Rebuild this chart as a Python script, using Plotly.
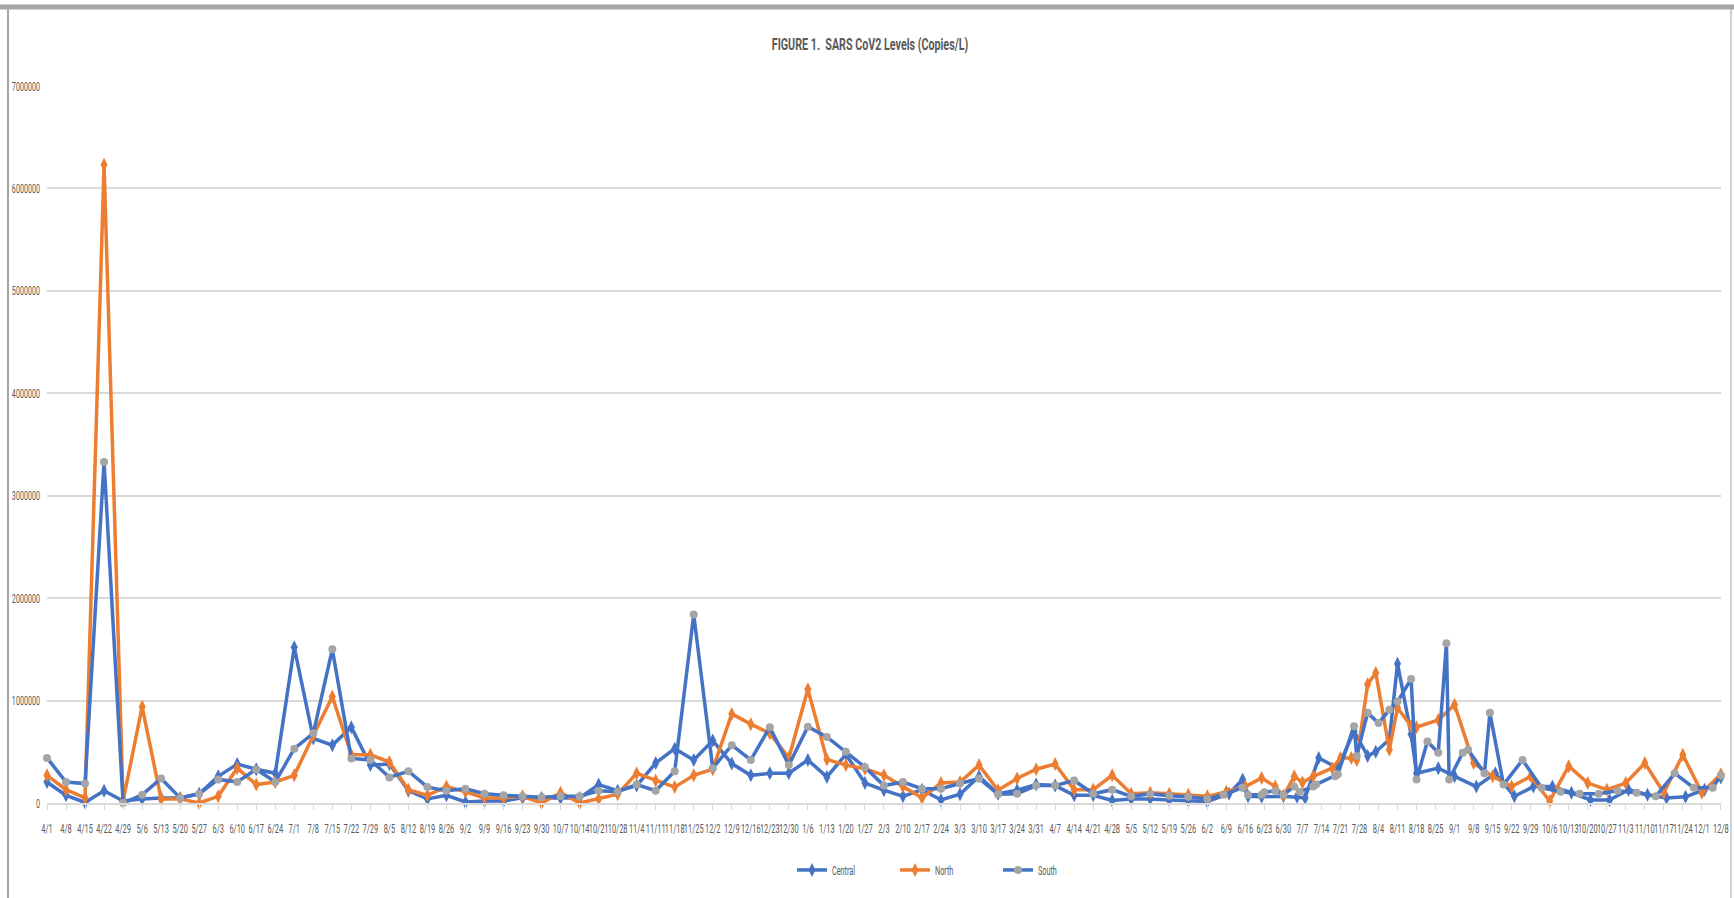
import plotly.graph_objects as go
import pandas as pd

# ---------------- data ----------------
title_text = "FIGURE 1.  SARS CoV2 Levels (Copies/L)"
series_names = ["Central", "North", "South"]

# weekly sampling dates (first period, all three sites)
reg_dates = pd.date_range("2020-04-01", "2021-06-02", freq="7D")

central_reg = [205000, 75000, 5000, 120000, 20000, 40000, 50000, 50000, 90000, 260000,
               380000, 330000, 290000, 1520000, 630000, 565000, 740000, 370000, 380000, 120000,
               40000, 75000, 10000, 20000, 20000, 50000, 50000, 50000, 50000, 180000,
               120000, 170000, 390000, 530000, 420000, 610000, 385000, 270000, 290000, 290000,
               420000, 255000, 475000, 195000, 125000, 65000, 130000, 30000, 85000, 260000,
               90000, 125000, 180000, 170000, 75000, 75000, 25000, 40000, 40000, 30000,
               25000, 15000]
north_reg = [270000, 130000, 50000, 6230000, 20000, 940000, 40000, 40000, 0, 65000,
             340000, 180000, 205000, 270000, 660000, 1040000, 470000, 470000, 400000, 130000,
             75000, 160000, 110000, 50000, 50000, 65000, 0, 100000, 0, 40000,
             85000, 290000, 220000, 155000, 270000, 330000, 870000, 770000, 680000, 440000,
             1110000, 425000, 370000, 335000, 270000, 160000, 50000, 195000, 205000, 370000,
             125000, 240000, 330000, 380000, 130000, 130000, 270000, 90000, 100000, 90000,
             80000, 65000]
south_reg = [440000, 205000, 190000, 3330000, 0, 80000, 240000, 50000, 90000, 230000,
             205000, 330000, 205000, 530000, 680000, 1500000, 435000, 420000, 250000, 310000,
             155000, 120000, 140000, 90000, 75000, 65000, 55000, 65000, 65000, 120000,
             110000, 180000, 120000, 310000, 1840000, 340000, 565000, 420000, 740000, 370000,
             745000, 645000, 500000, 350000, 170000, 205000, 140000, 140000, 190000, 240000,
             85000, 90000, 170000, 170000, 220000, 90000, 130000, 65000, 90000, 70000,
             60000, 40000]

# later period: irregular / more frequent sampling
central_late_dates = ["2021-06-10", "2021-06-15", "2021-06-17", "2021-06-22", "2021-06-30",
                      "2021-07-05", "2021-07-08", "2021-07-13", "2021-07-20", "2021-07-26",
                      "2021-07-31", "2021-08-03", "2021-08-08", "2021-08-11", "2021-08-16",
                      "2021-08-18", "2021-08-26", "2021-09-01", "2021-09-09", "2021-09-16",
                      "2021-09-23", "2021-09-30", "2021-10-07", "2021-10-14", "2021-10-21",
                      "2021-10-28", "2021-11-04", "2021-11-11", "2021-11-18", "2021-11-25",
                      "2021-12-02", "2021-12-08"]
central_late = [90000, 230000, 65000, 60000, 65000,
                60000, 50000, 440000, 340000, 700000,
                460000, 500000, 620000, 1360000, 670000,
                290000, 340000, 260000, 160000, 290000,
                65000, 160000, 160000, 100000, 30000,
                30000, 130000, 80000, 50000, 60000,
                130000, 250000]

north_late_dates = ["2021-06-09", "2021-06-16", "2021-06-22", "2021-06-27", "2021-06-30",
                    "2021-07-04", "2021-07-07", "2021-07-11", "2021-07-18", "2021-07-21",
                    "2021-07-25", "2021-07-27", "2021-07-31", "2021-08-03", "2021-08-08",
                    "2021-08-11", "2021-08-16", "2021-08-18", "2021-08-26", "2021-09-01",
                    "2021-09-08", "2021-09-15", "2021-09-22", "2021-09-29", "2021-10-06",
                    "2021-10-13", "2021-10-20", "2021-10-27", "2021-11-03", "2021-11-10",
                    "2021-11-17", "2021-11-24", "2021-12-01", "2021-12-08"]
north_late = [110000, 160000, 245000, 160000, 70000,
              260000, 200000, 260000, 340000, 440000,
              440000, 420000, 1160000, 1270000, 520000,
              930000, 750000, 740000, 810000, 960000,
              390000, 260000, 160000, 260000, 20000,
              360000, 195000, 130000, 195000, 390000,
              100000, 470000, 100000, 280000]

south_late_dates = ["2021-06-08", "2021-06-15", "2021-06-17", "2021-06-22", "2021-06-23",
                    "2021-06-27", "2021-06-30", "2021-07-04", "2021-07-06", "2021-07-11",
                    "2021-07-12", "2021-07-19", "2021-07-20", "2021-07-26", "2021-07-27",
                    "2021-07-31", "2021-08-04", "2021-08-08", "2021-08-11", "2021-08-16",
                    "2021-08-18", "2021-08-22", "2021-08-26", "2021-08-29", "2021-08-30",
                    "2021-09-04", "2021-09-06", "2021-09-12", "2021-09-14", "2021-09-19",
                    "2021-09-26", "2021-10-03", "2021-10-10", "2021-10-17", "2021-10-24",
                    "2021-10-31", "2021-11-07", "2021-11-14", "2021-11-21", "2021-11-28",
                    "2021-12-05", "2021-12-08"]
south_late = [80000, 150000, 80000, 80000, 105000,
              120000, 80000, 160000, 110000, 160000,
              180000, 260000, 280000, 750000, 460000,
              880000, 780000, 910000, 990000, 1210000,
              230000, 600000, 490000, 1560000, 230000,
              490000, 520000, 290000, 880000, 180000,
              420000, 150000, 110000, 90000, 90000,
              120000, 100000, 65000, 290000, 150000,
              150000, 270000]

x_start, x_end = "2020-04-01", "2021-12-08 01:00"
y_ticks = [0, 1000000, 2000000, 3000000, 4000000, 5000000, 6000000, 7000000]

# ---------------- styling ----------------
BLUE = "#4472C4"
ORANGE = "#ED7D31"
GRAY = "#A5A5A5"
TXT = "#595959"
GRID = "#D9D9D9"
FONT = "Roboto, Liberation Sans, sans-serif"

reg_str = [d.strftime("%Y-%m-%d") for d in reg_dates]

fig = go.Figure()
fig.add_trace(go.Scatter(
    x=reg_str + central_late_dates, y=central_reg + central_late, name=series_names[0],
    mode="lines+markers", line=dict(color=BLUE, width=3.5),
    marker=dict(symbol="diamond-tall", size=10, color=BLUE), cliponaxis=False))
fig.add_trace(go.Scatter(
    x=reg_str + north_late_dates, y=north_reg + north_late, name=series_names[1],
    mode="lines+markers", line=dict(color=ORANGE, width=3.5),
    marker=dict(symbol="diamond-tall", size=10, color=ORANGE), cliponaxis=False))
fig.add_trace(go.Scatter(
    x=reg_str + south_late_dates, y=south_reg + south_late, name=series_names[2],
    mode="lines+markers", line=dict(color=BLUE, width=3.5),
    marker=dict(symbol="circle", size=8, color=GRAY), cliponaxis=False))

L, R, T, B = 47, 13, 86, 95
W, H = 1734, 898
pw, ph = W - L - R, H - T - B

def px_x(p):
    return (p - L) / pw

def px_y(p):
    return (H - B - p) / ph

fig.update_layout(
    width=W, height=H,
    margin=dict(l=L, r=R, t=T, b=B, autoexpand=False),
    paper_bgcolor="white", plot_bgcolor="white",
    font=dict(family=FONT, color=TXT, size=13),
    title=dict(text=title_text, x=870 / W, xref="container", xanchor="center",
               y=1 - 44 / H, yref="container", yanchor="middle",
               font=dict(family=FONT, size=17, color=TXT, weight="bold")),
    showlegend=True,
    legend=dict(orientation="h", x=px_x(792), xanchor="left",
                y=px_y(870), yanchor="middle", font=dict(size=13, color=TXT),
                entrywidth=58, entrywidthmode="pixels", itemwidth=30,
                bgcolor="rgba(0,0,0,0)"),
    xaxis=dict(type="date", range=[x_start, x_end], tick0="2020-04-01", dtick=7 * 86400000,
               tickformat="%-m/%-d", tickangle=0, showgrid=False, showline=True,
               linecolor=GRID, linewidth=2, ticks="outside", ticklen=5, tickcolor=GRID,
               tickfont=dict(size=13, color=TXT), ticklabelstandoff=7, zeroline=False,
               ticklabeloverflow="allow", automargin=False),
    yaxis=dict(range=[0, 7000000], tickvals=y_ticks, tickformat="d", showgrid=True,
               gridcolor=GRID, gridwidth=1.5, zeroline=False, showline=False, ticks="",
               tickfont=dict(size=13, color=TXT), ticklabelstandoff=6, automargin=False),
    shapes=[
        dict(type="line", xref="paper", yref="paper", x0=px_x(8), x1=px_x(8),
             y0=px_y(898), y1=px_y(7), line=dict(color="#A6A6A6", width=2)),
        dict(type="line", xref="paper", yref="paper", x0=px_x(1731), x1=px_x(1731),
             y0=px_y(898), y1=px_y(7), line=dict(color="#BFBFBF", width=1.5)),
        dict(type="line", xref="paper", yref="paper", x0=px_x(0), x1=px_x(1734),
             y0=px_y(7), y1=px_y(7), line=dict(color="#A6A6A6", width=5)),
    ],
)

# condensed-looking text (the reference uses a horizontally squeezed font)
squeeze_js = """
document.body.style.margin='0';
document.body.style.overflow='hidden';
function sq(sel, f){
  document.querySelectorAll(sel).forEach(function(t){
    var w = t.getComputedTextLength();
    if (w > 0) {
      t.setAttribute('textLength', (w*f).toFixed(2));
      t.setAttribute('lengthAdjust', 'spacingAndGlyphs');
    }
  });
}
sq('.xtick text', 0.57);
sq('.ytick text', 0.55);
sq('.legendtext', 0.56);
sq('.gtitle', 0.63);
"""

fig.write_html("out.html", config={"displayModeBar": False}, post_script=squeeze_js)
